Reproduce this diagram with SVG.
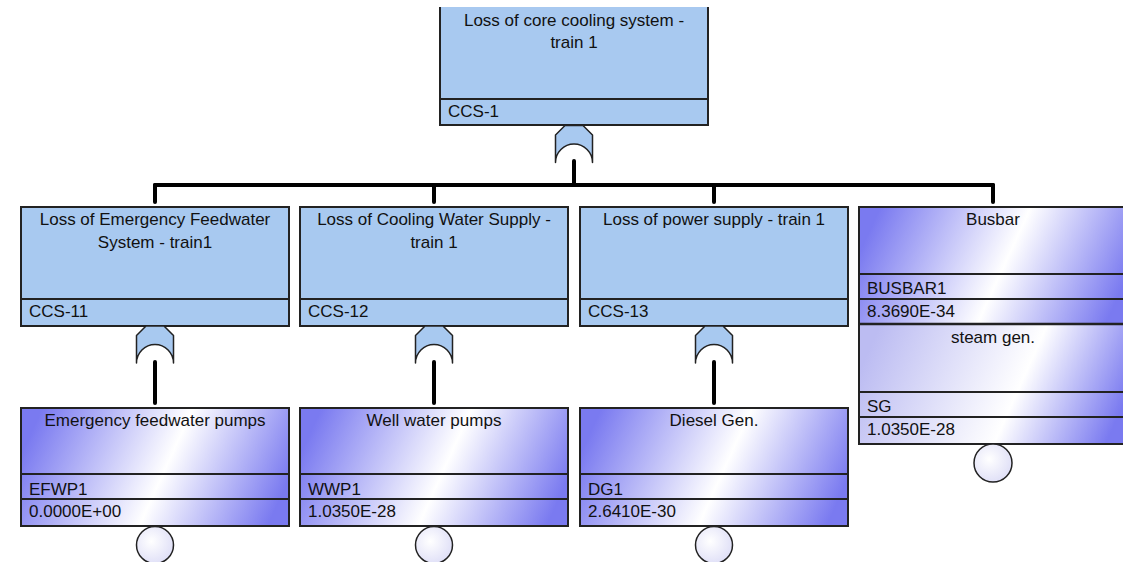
<svg xmlns="http://www.w3.org/2000/svg" width="1123" height="562" viewBox="0 0 1123 562">
<style>
text{font-family:"Liberation Sans",Arial,sans-serif;font-size:17px;fill:#111}
.c{text-anchor:middle}
.gate{fill:#a8c9f0;stroke:#222;stroke-width:1.5;stroke-linejoin:round}
.gfill{fill:#a8c9f0}
.bd{fill:none;stroke:#222;stroke-width:2}
.ev{fill:url(#evg)}
.ev2{fill:url(#evg2)}
.circ{fill:url(#cg);stroke:#222;stroke-width:1.5}
.conn line{stroke:#000;stroke-width:4;stroke-linecap:round}
</style>
<defs>
<linearGradient id="evg" x1="0" y1="0.4" x2="1" y2="0.6">
<stop offset="0" stop-color="#7a7af0"/>
<stop offset="0.54" stop-color="#ffffff"/>
<stop offset="1" stop-color="#7a7af0"/>
</linearGradient>
<linearGradient id="evg2" x1="0" y1="0.4" x2="1" y2="0.6">
<stop offset="0" stop-color="#bcbcf2"/>
<stop offset="0.6" stop-color="#ffffff"/>
<stop offset="1" stop-color="#7a7af0"/>
</linearGradient>
<radialGradient id="cg" cx="0.4" cy="0.4" r="0.7">
<stop offset="0" stop-color="#ffffff"/>
<stop offset="1" stop-color="#dcdcf6"/>
</radialGradient>
</defs>

<g id="connectors" class="conn">
<line x1="574" y1="161" x2="574" y2="185"/>
<line x1="155" y1="185" x2="993" y2="185"/>
<line x1="155" y1="185" x2="155" y2="202"/>
<line x1="434" y1="185" x2="434" y2="202"/>
<line x1="714" y1="185" x2="714" y2="202"/>
<line x1="993" y1="185" x2="993" y2="202"/>
<line x1="155" y1="362" x2="155" y2="403"/>
<line x1="434" y1="362" x2="434" y2="403"/>
<line x1="714" y1="362" x2="714" y2="403"/>
</g>

<g id="CCS-1">
<rect class="gfill" x="440" y="7" width="268" height="118"/>
<path class="bd" d="M440,7 V125 H708 V7 M440,99 H708"/>
<text class="c" x="574" y="26">Loss of core cooling system -</text>
<text class="c" x="574" y="48">train 1</text>
<text x="448" y="117">CCS-1</text>
<path class="gate" d="M565,125.5 H583 L592.5,135 V162.5 A18.5 18.5 0 0 0 555.5,162.5 V135 Z"/>
</g>

<g id="CCS-11">
<rect class="gfill" x="21" y="207" width="268" height="119"/>
<path class="bd" d="M21,207 H289 V326 H21 Z M21,299 H289"/>
<text class="c" x="155" y="225">Loss of Emergency Feedwater</text>
<text class="c" x="155" y="248">System - train1</text>
<text x="29" y="317">CCS-11</text>
<path class="gate" d="M146,326 H164 L173.5,335.5 V363 A18.5 18.5 0 0 0 136.5,363 V335.5 Z"/>
</g>

<g id="CCS-12">
<rect class="gfill" x="300" y="207" width="268" height="119"/>
<path class="bd" d="M300,207 H568 V326 H300 Z M300,299 H568"/>
<text class="c" x="434" y="225">Loss of Cooling Water Supply -</text>
<text class="c" x="434" y="248">train 1</text>
<text x="308" y="317">CCS-12</text>
<path class="gate" d="M425,326 H443 L452.5,335.5 V363 A18.5 18.5 0 0 0 415.5,363 V335.5 Z"/>
</g>

<g id="CCS-13">
<rect class="gfill" x="580" y="207" width="268" height="119"/>
<path class="bd" d="M580,207 H848 V326 H580 Z M580,299 H848"/>
<text class="c" x="714" y="225">Loss of power supply - train 1</text>
<text x="588" y="317">CCS-13</text>
<path class="gate" d="M705,326 H723 L732.5,335.5 V363 A18.5 18.5 0 0 0 695.5,363 V335.5 Z"/>
</g>

<g id="BUSBAR1">
<rect class="ev" x="859" y="207" width="268" height="117"/>
<rect class="ev2" x="859" y="324" width="268" height="120"/>
<path class="bd" d="M1127,207 H859 V444 H1127 M859,274 H1127 M859,299 H1127 M859,392 H1127 M859,417 H1127"/>
<line x1="859" y1="324" x2="1127" y2="324" stroke="#222" stroke-width="2.5"/>
<text class="c" x="993" y="225">Busbar</text>
<text x="867" y="294">BUSBAR1</text>
<text x="867" y="317">8.3690E-34</text>
</g>

<g id="SG">
<text class="c" x="993" y="343">steam gen.</text>
<text x="867" y="412">SG</text>
<text x="867" y="435">1.0350E-28</text>
<circle class="circ" cx="993" cy="463" r="19"/>
</g>

<g id="EFWP1">
<rect class="ev" x="21" y="408" width="268" height="118"/>
<path class="bd" d="M21,408 H289 V526 H21 Z M21,474 H289 M21,499 H289"/>
<text class="c" x="155" y="426">Emergency feedwater pumps</text>
<text x="29" y="495">EFWP1</text>
<text x="29" y="517">0.0000E+00</text>
<circle class="circ" cx="155" cy="545" r="18.5"/>
</g>

<g id="WWP1">
<rect class="ev" x="300" y="408" width="268" height="118"/>
<path class="bd" d="M300,408 H568 V526 H300 Z M300,474 H568 M300,499 H568"/>
<text class="c" x="434" y="426">Well water pumps</text>
<text x="308" y="495">WWP1</text>
<text x="308" y="517">1.0350E-28</text>
<circle class="circ" cx="434" cy="545" r="18.5"/>
</g>

<g id="DG1">
<rect class="ev" x="580" y="408" width="268" height="118"/>
<path class="bd" d="M580,408 H848 V526 H580 Z M580,474 H848 M580,499 H848"/>
<text class="c" x="714" y="426">Diesel Gen.</text>
<text x="588" y="495">DG1</text>
<text x="588" y="517">2.6410E-30</text>
<circle class="circ" cx="714" cy="545" r="18.5"/>
</g>
</svg>
